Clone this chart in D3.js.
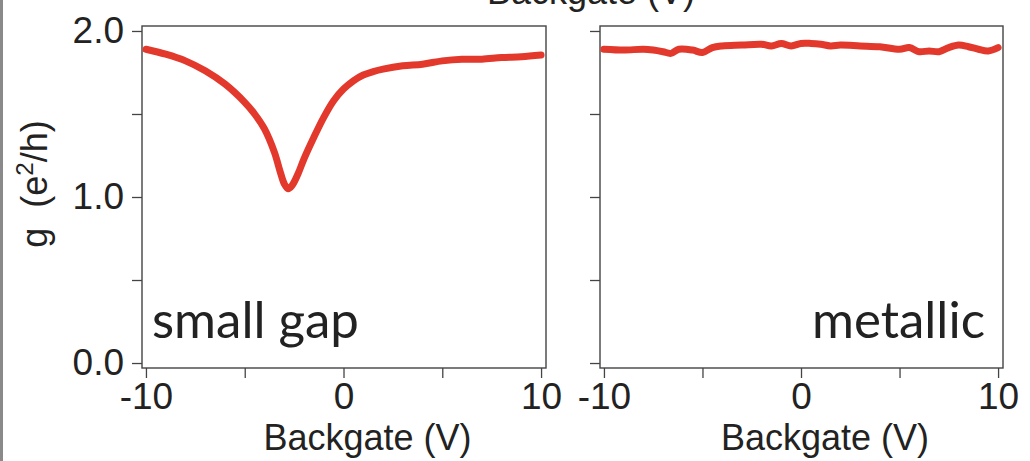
<!DOCTYPE html>
<html>
<head>
<meta charset="utf-8">
<script src="https://cdn.jsdelivr.net/npm/d3@7"></script>
<style>
  html, body { margin: 0; padding: 0; background: #fff; }
  svg { display: block; }
  .tick text { font-family: "Liberation Sans", Arial, sans-serif; font-size: 37px; fill: #222; }
  .tick line { stroke: #444; stroke-width: 1.3; }
  .title { font-family: "Liberation Sans", Arial, sans-serif; font-size: 36px; fill: #222; }
  .tag { font-family: Lato, "Open Sans", sans-serif; font-size: 51px; fill: #222; }
</style>
</head>
<body>
<svg id="chart" width="1030" height="461"></svg>
<script>
// backgate voltage (V) and conductance g (e^2/h)
const gapGate = [-10, -9, -8, -7, -6, -5, -4.5, -4, -3.5, -3.2, -3.0, -2.8, -2.6, -2.3, -2.0, -1.5, -1.0, -0.5, 0, 0.5, 1.0, 1.5, 2, 3, 4, 5, 6, 7, 8, 9, 10];
const gapG = [1.89, 1.86, 1.82, 1.76, 1.68, 1.57, 1.50, 1.41, 1.27, 1.15, 1.08, 1.05, 1.07, 1.14, 1.23, 1.36, 1.48, 1.58, 1.65, 1.70, 1.735, 1.755, 1.77, 1.79, 1.80, 1.82, 1.83, 1.83, 1.84, 1.845, 1.855];

const metGate = [-10, -9, -8, -7.5, -7, -6.6, -6.2, -5.5, -5, -4.5, -4, -3, -2, -1.5, -1, -0.5, 0, 0.5, 1, 1.5, 2, 3, 4, 5, 5.5, 6, 6.5, 7, 7.5, 8, 8.5, 9, 9.5, 10];
const metG = [1.89, 1.885, 1.89, 1.885, 1.875, 1.865, 1.89, 1.885, 1.87, 1.90, 1.91, 1.915, 1.92, 1.91, 1.925, 1.91, 1.925, 1.925, 1.92, 1.91, 1.915, 1.91, 1.905, 1.89, 1.90, 1.875, 1.88, 1.875, 1.90, 1.915, 1.905, 1.89, 1.88, 1.90];

const xTicks = [-10, -5, 0, 5, 10];
const xLabels = [-10, 0, 10];
const yTicks = [0, 0.5, 1.0, 1.5, 2.0];
const yLabels = [0, 1.0, 2.0];

const xTitle = "Backgate (V)";
const panelTags = ["small gap", "metallic"];

const svg = d3.select("#chart");
const plotTop = 26, plotBottom = 368;
const y = d3.scaleLinear().domain([-0.03, 2.03]).range([plotBottom, plotTop]);

// thin gray strip at the left edge
svg.append("rect").attr("x", 0).attr("y", 0).attr("width", 3).attr("height", 461).attr("fill", "#8a8a8a");

// cut-off title from the panel above
svg.append("text").attr("class", "title")
    .attr("x", 591).attr("y", 4).attr("text-anchor", "middle")
    .text(xTitle);

function drawPanel(left, right, gate, g, tag, showY, tagRight){
    const x = d3.scaleLinear().domain([-10.2, 10.25]).range([left, right]);
    const p = svg.append("g");

    const xAxis = d3.axisBottom(x).tickValues(xTicks).tickSize(10).tickPadding(5).tickSizeOuter(0)
        .tickFormat(d => xLabels.includes(d) ? d : "");
    p.append("g").attr("transform", `translate(0,${plotBottom})`).call(xAxis)
        .call(a => a.select(".domain").remove());

    const yAxis = d3.axisLeft(y).tickValues(yTicks).tickSize(10).tickPadding(8).tickSizeOuter(0)
        .tickFormat(d => showY && yLabels.includes(d) ? d3.format(".1f")(d) : "");
    p.append("g").attr("transform", `translate(${left},0)`).call(yAxis)
        .call(a => a.select(".domain").remove());

    p.append("rect").attr("x", left).attr("y", plotTop)
        .attr("width", right - left).attr("height", plotBottom - plotTop)
        .attr("fill", "none").attr("stroke", "#444").attr("stroke-width", 1.4);

    const line = d3.line().x(d => x(d[0])).y(d => y(d[1])).curve(d3.curveCatmullRom);
    p.append("path").datum(gate.map((v, i) => [v, g[i]]))
        .attr("d", line).attr("fill", "none")
        .attr("stroke", "#e2392c").attr("stroke-width", 7)
        .attr("stroke-linejoin", "round").attr("stroke-linecap", "round");

    p.append("text").attr("class", "tag")
        .attr("x", tagRight ? right - 18 : left + 10).attr("y", 338)
        .attr("text-anchor", tagRight ? "end" : "start")
        .text(tag);

    p.append("text").attr("class", "title")
        .attr("x", x(0) + 24).attr("y", 450).attr("text-anchor", "middle")
        .text(xTitle);
}

drawPanel(142, 546, gapGate, gapG, panelTags[0], true, false);
drawPanel(600, 1003, metGate, metG, panelTags[1], false, true);

// y axis title g (e^2/h)
const yt = svg.append("text").attr("class", "title")
    .attr("transform", "translate(47,184) rotate(-90)")
    .attr("text-anchor", "middle");
yt.append("tspan").text("g\u00a0\u00a0(e");
yt.append("tspan").attr("dy", -14).attr("font-size", 24).text("2");
yt.append("tspan").attr("dy", 14).text("/h)");
</script>
</body>
</html>
